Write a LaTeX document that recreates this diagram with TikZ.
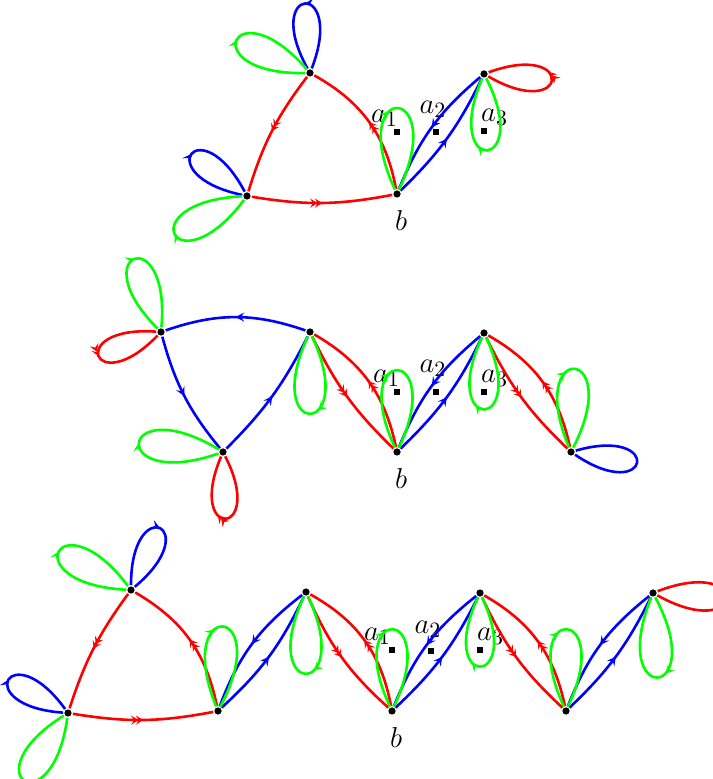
\documentclass[tikz,border=0pt]{standalone}
\usepackage{amsmath,amssymb}
\usetikzlibrary{positioning, arrows.meta, decorations.markings}

\begin{document}
\begin{tikzpicture}[x=0.5pt, y=0.5pt, line width=1.3pt,
  vtx/.style={circle, fill=black, inner sep=0pt, minimum size=3.6pt},
  pnt/.style={rectangle, fill=black, inner sep=0pt, minimum size=2.6pt},
  lab/.style={inner sep=0pt, font=\fontsize{15}{18}\selectfont},
  arr/.style={postaction={decorate, decoration={markings, mark=at position #1 with {\arrow{Stealth[length=4.4pt, width=4.6pt, inset=1.8pt]}}}}},
  arr/.default=0.5,
  darr/.style={postaction={decorate, decoration={markings, mark=at position #1 with {\arrow{Stealth[length=3.6pt, width=4.6pt, inset=1.5pt, sep=-1.2pt] Stealth[length=3.6pt, width=4.6pt, inset=1.5pt]}}}}},
  darr/.default=0.5]
\useasboundingbox (0,0) rectangle (712,779);

% top row
\node[vtx] (t1) at (310,706) {};
\node[vtx] (t2) at (247,583) {};
\node[vtx] (tb) at (397,585) {};
\node[vtx] (t3) at (484,705) {};
\node[pnt] (ta1) at (397,647) {};
\node[pnt] (ta2) at (436,647) {};
\node[pnt] (ta3) at (484,648) {};
\node[lab, above left=0pt and -3pt of ta1] (la1) {$a_1$};
\node[lab, above=4.5pt of ta2, xshift=-1.5pt] (la2) {$a_2$};
\node[lab, above right=0pt and -4pt of ta3] (la3) {$a_3$};
\node[lab, below=5pt of tb, xshift=2pt] (lb) {$b$};

\draw[red, darr] (t1) to[bend right=10] (t2);
\draw[red, darr] (t2) to[bend right=10] (tb);
\draw[red, darr] (tb) to[bend right=25] (t1);
\draw[blue, arr] (t3) to[bend right=14] (tb);
\draw[blue, arr] (tb) to[bend right=10] (t3);
\draw[blue, arr] (t1) to[out=69, in=119, distance=48pt] (t1);
\draw[green, arr] (t1) to[out=181, in=131, distance=56pt] (t1);
\draw[blue, arr] (t2) to[out=168, in=118, distance=48pt] (t2);
\draw[green, arr] (t2) to[out=233, in=183, distance=57pt] (t2);
\draw[green, arr=0.45] (tb) to[out=115, in=65, distance=60pt] (tb);
\draw[green, arr=0.56] (t3) to[out=297, in=247, distance=53pt] (t3);
\draw[red, darr=0.56] (t3) to[out=330, in=20, distance=47pt] (t3);

% middle row
\node[vtx] (m1) at (161,447) {};
\node[vtx] (m2) at (223,327) {};
\node[vtx] (m3) at (310,447) {};
\node[vtx] (mb) at (397,327) {};
\node[vtx] (m4) at (484,446) {};
\node[vtx] (m5) at (571,327) {};
\node[pnt] (ma1) at (397,387) {};
\node[pnt] (ma2) at (436,387) {};
\node[pnt] (ma3) at (484,387) {};
\node[lab, above left=0pt and -4pt of ma1] (lma1) {$a_1$};
\node[lab, above=5pt of ma2, xshift=-1.5pt] (lma2) {$a_2$};
\node[lab, above right=0pt and -4pt of ma3] (lma3) {$a_3$};
\node[lab, below=5pt of mb, xshift=2pt] (lmb) {$b$};

\draw[blue, arr] (m3) to[bend right=19] (m1);
\draw[blue, arr] (m1) to[bend right=12] (m2);
\draw[blue, arr] (m2) to[bend right=9] (m3);
\draw[red, darr] (mb) to[bend right=24] (m3);
\draw[red, darr] (m3) to[bend right=10] (mb);
\draw[blue, arr] (m4) to[bend right=14] (mb);
\draw[blue, arr] (mb) to[bend right=10] (m4);
\draw[red, darr] (m5) to[bend right=24] (m4);
\draw[red, darr] (m4) to[bend right=10] (m5);
\draw[green, arr] (m1) to[out=135, in=85, distance=54pt] (m1);
\draw[red, darr] (m1) to[out=176, in=226, distance=46pt] (m1);
\draw[green, arr] (m2) to[out=199, in=149, distance=59pt] (m2);
\draw[red, darr=0.56] (m2) to[out=297, in=247, distance=46pt] (m2);
\draw[green, arr=0.45] (m3) to[out=295, in=245, distance=57pt] (m3);
\draw[green, arr=0.45] (mb) to[out=115, in=65, distance=57pt] (mb);
\draw[green, arr=0.56] (m4) to[out=295, in=245, distance=53pt] (m4);
\draw[green, arr=0.45] (m5) to[out=113, in=63, distance=58pt] (m5);
\draw[blue] (m5) to[out=326, in=16, distance=46pt] (m5);

% bottom row
\node[vtx] (u1) at (131,189) {};
\node[vtx] (u2) at (68,66) {};
\node[vtx] (u3) at (218,68) {};
\node[vtx] (u4) at (306,187) {};
\node[vtx] (ub) at (392,68) {};
\node[vtx] (u5) at (480,186) {};
\node[vtx] (u6) at (566,68) {};
\node[vtx] (u7) at (653,186) {};
\node[pnt] (ua1) at (392,129) {};
\node[pnt] (ua2) at (431,128) {};
\node[pnt] (ua3) at (480,129) {};
\node[lab, above left=0pt and -2pt of ua1] (lua1) {$a_1$};
\node[lab, above=4pt of ua2, xshift=-1.5pt] (lua2) {$a_2$};
\node[lab, above right=0pt and -4pt of ua3] (lua3) {$a_3$};
\node[lab, below=5pt of ub, xshift=2pt] (lub) {$b$};

\draw[red, darr] (u1) to[bend right=9] (u2);
\draw[red, darr] (u2) to[bend right=10] (u3);
\draw[red, darr] (u3) to[bend right=24] (u1);
\draw[blue, arr] (u4) to[bend right=16] (u3);
\draw[blue, arr] (u3) to[bend right=11] (u4);
\draw[red, darr] (ub) to[bend right=25] (u4);
\draw[red, darr] (u4) to[bend right=12] (ub);
\draw[blue, arr] (u5) to[bend right=15] (ub);
\draw[blue, arr] (ub) to[bend right=10] (u5);
\draw[red, darr] (u6) to[bend right=24] (u5);
\draw[red, darr] (u5) to[bend right=11] (u6);
\draw[blue, arr] (u7) to[bend right=15] (u6);
\draw[blue, arr] (u6) to[bend right=10] (u7);
\draw[blue, arr] (u1) to[out=90, in=40, distance=47pt] (u1);
\draw[green, arr] (u1) to[out=177, in=127, distance=57pt] (u1);
\draw[blue, arr] (u2) to[out=176, in=126, distance=47pt] (u2);
\draw[green, arr] (u2) to[out=262, in=212, distance=56pt] (u2);
\draw[green, arr=0.45] (u3) to[out=112, in=62, distance=59pt] (u3);
\draw[green, arr=0.45] (u4) to[out=295, in=245, distance=57pt] (u4);
\draw[green, arr=0.45] (ub) to[out=115, in=65, distance=57pt] (ub);
\draw[green, arr=0.56] (u5) to[out=295, in=245, distance=51pt] (u5);
\draw[green, arr=0.45] (u6) to[out=115, in=65, distance=57pt] (u6);
\draw[green, arr=0.45] (u7) to[out=298, in=248, distance=59pt] (u7);
\draw[red] (u7) to[out=331, in=21, distance=51pt] (u7);
\end{tikzpicture}
\end{document}
